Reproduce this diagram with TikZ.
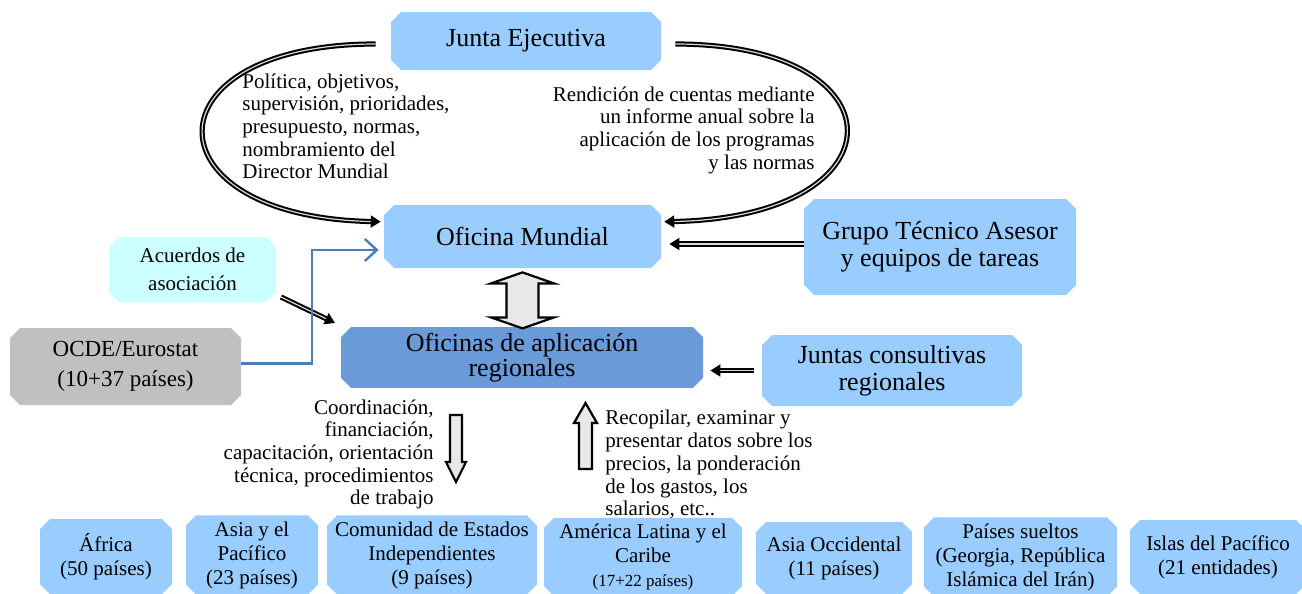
\documentclass[tikz,border=0pt]{standalone}
\usepackage{fontspec}
\setmainfont{Liberation Serif}
\usepackage{xcolor}
\usepackage{tikz}
\usetikzlibrary{shapes.misc, arrows.meta, positioning, calc}

\definecolor{boxblue}{HTML}{99CCFF}
\definecolor{regblue}{HTML}{6A9BD8}
\definecolor{pactcyan}{HTML}{CCFFFF}
\definecolor{ocdegray}{HTML}{C0C0C0}
\definecolor{arrowgray}{HTML}{E8E8E8}
\definecolor{lineblue}{HTML}{4A7EBB}

\newcommand{\notefont}{\fontsize{10.5}{11.35}\selectfont}
\newcommand{\boxfont}{\fontsize{13}{13.5}\selectfont}
\newcommand{\rowfont}{\fontsize{10.5}{12}\selectfont}

\tikzset{
	orgbox/.style={chamfered rectangle, chamfered rectangle xsep=3pt, chamfered rectangle ysep=2pt,
		fill=boxblue, inner sep=1pt, align=center, font=\boxfont},
	rowbox/.style={orgbox, font=\rowfont},
	notetext/.style={inner sep=0pt, font=\notefont},
	dblarrow/.style={double=white!85!black, double distance=0.6pt, line width=1pt, -{Triangle[length=5pt,width=6pt]}},
	blueline/.style={lineblue, line width=1.2pt, -{Straight Barb[length=6pt,width=11pt]}},
	blockarrow/.style={draw=black, fill=arrowgray, line width=1.1pt, line join=miter}
}

\begin{document}
\begin{tikzpicture}[x=0.5pt, y=-0.5pt]
	% Page frame (pixels of the reference)
	\useasboundingbox (0,0) rectangle (1302,594);
	
	% Top level boxes
	\node[orgbox, minimum width=135pt, minimum height=29pt] (junta) at (526,41) {Junta Ejecutiva};
	\node[orgbox, minimum width=138.5pt, minimum height=31.5pt] (oficina) at (522.5,236.5) {Oficina Mundial};
	\node[orgbox, minimum width=136pt, minimum height=48pt] (grupo) at (940,247) {Grupo Técnico Asesor\\y equipos de tareas};
	
	% Side boxes
	\node[orgbox, fill=pactcyan, font=\fontsize{10.5}{14}\selectfont, minimum width=83.5pt, minimum height=32.5pt] (acuerdos) at (192.5,269.5) {Acuerdos de\\asociación};
	\node[orgbox, fill=ocdegray, font=\fontsize{11.5}{15}\selectfont, minimum width=115.5pt, minimum height=38.5pt] (ocde) at (125.5,366.5) {OCDE/Eurostat\\(10+37 países)};
	
	% Regional level
	\node[orgbox, fill=regblue, font=\fontsize{13}{12.5}\selectfont, minimum width=181pt, minimum height=29.5pt] (oficinas) at (522,357.5) {Oficinas de aplicación\\regionales};
	\node[orgbox, minimum width=130pt, minimum height=35.5pt] (juntas) at (892,370.5) {Juntas consultivas\\regionales};
	
	% Regions (bottom row)
	\node[rowbox, minimum width=66pt, minimum height=37.5pt] (africa) at (106,556.5) {África\\(50 países)};
	\node[rowbox, minimum width=66pt, minimum height=39pt] (asia) at (252,555) {Asia y el\\Pacífico\\(23 países)};
	\node[rowbox, minimum width=100pt, minimum height=39pt] (cei) at (432,555) {Comunidad de Estados\\Independientes\\(9 países)};
	\node[rowbox, minimum width=99pt, minimum height=37pt] (alc) at (643,557) {América Latina y el\\Caribe\\{\fontsize{8.5}{10}\selectfont(17+22 países)}};
	\node[rowbox, minimum width=78pt, minimum height=36pt] (aocc) at (834,558) {Asia Occidental\\(11 países)};
	\node[rowbox, minimum width=96.5pt, minimum height=37pt] (sueltos) at (1020.5,557) {Países sueltos\\(Georgia, República\\Islámica del Irán)};
	\node[rowbox, minimum width=88pt, minimum height=37pt] (islas) at (1218,557) {Islas del Pacífico\\(21 entidades)};
	
	% Notes beside the connectors
	\node[notetext, anchor=north west, align=left] (polnote) at (242,73) {Política, objetivos,\\supervisión, prioridades,\\presupuesto, normas,\\nombramiento del\\Director Mundial};
	\node[notetext, anchor=north east, align=right] (cuentasnote) at (815,86) {Rendición de cuentas mediante\\un informe anual sobre la\\aplicación de los programas\\y las normas};
	\node[notetext, anchor=north east, align=right] (coordnote) at (434,399) {Coordinación,\\financiación,\\capacitación, orientación\\técnica, procedimientos\\de trabajo};
	\node[notetext, anchor=north west, align=left] (datosnote) at (605,410) {Recopilar, examinar y\\presentar datos sobre los\\precios, la ponderación\\de los gastos, los\\salarios, etc..};
	
	% Loops between the board and the world office
	\draw[dblarrow] ([xshift=-7.5pt,yshift=-1.5pt]junta.west) .. controls (145,44) and (145,217) .. ([shift={(-8,12)}]oficina.north west);
	\draw[dblarrow] ([xshift=7pt,yshift=-1.5pt]junta.east) .. controls (905,44) and (905,217) .. ([shift={(8,12)}]oficina.north east);
	
	% Straight connectors
	\coordinate (grupoout) at ([yshift=1.5pt]grupo.west);
	\draw[dblarrow, shorten >=4pt] (grupoout) -- (grupoout -| oficina.east);
	\coordinate (juntasout) at ([xshift=-4pt]juntas.west);
	\draw[dblarrow, shorten >=3.5pt] (juntasout) -- (juntasout -| oficinas.east);
	\draw[dblarrow] ([shift={(88.5,27.5)}]acuerdos.center) -- ([shift={(-187,-34.5)}]oficinas.center);
	\coordinate (bend) at (312,250);
	\draw[blueline] ([yshift=1.5pt]ocde.east) -| (bend) -- ([shift={(-5,13.5)}]oficina.west);
	
	% Block arrows
	\draw[blockarrow] ([yshift=-2pt]oficina.south) -- ++(31.5,11) -- ++(-15.5,0) -- ++(0,34) -- ++(15.5,0) -- ++(-31.5,11) -- ++(-31.5,-11) -- ++(15.5,0) -- ++(0,-34) -- ++(-15.5,0) -- cycle;
	\draw[blockarrow] (450,415) -- ++(12,0) -- ++(0,47) -- ++(4,0) -- ++(-10,20) -- ++(-10,-20) -- ++(4,0) -- cycle;
	\draw[blockarrow] (579,469) -- ++(13,0) -- ++(0,-46) -- ++(5,0) -- ++(-11.5,-20) -- ++(-11.5,20) -- ++(5,0) -- cycle;
	
\end{tikzpicture}
\end{document}
